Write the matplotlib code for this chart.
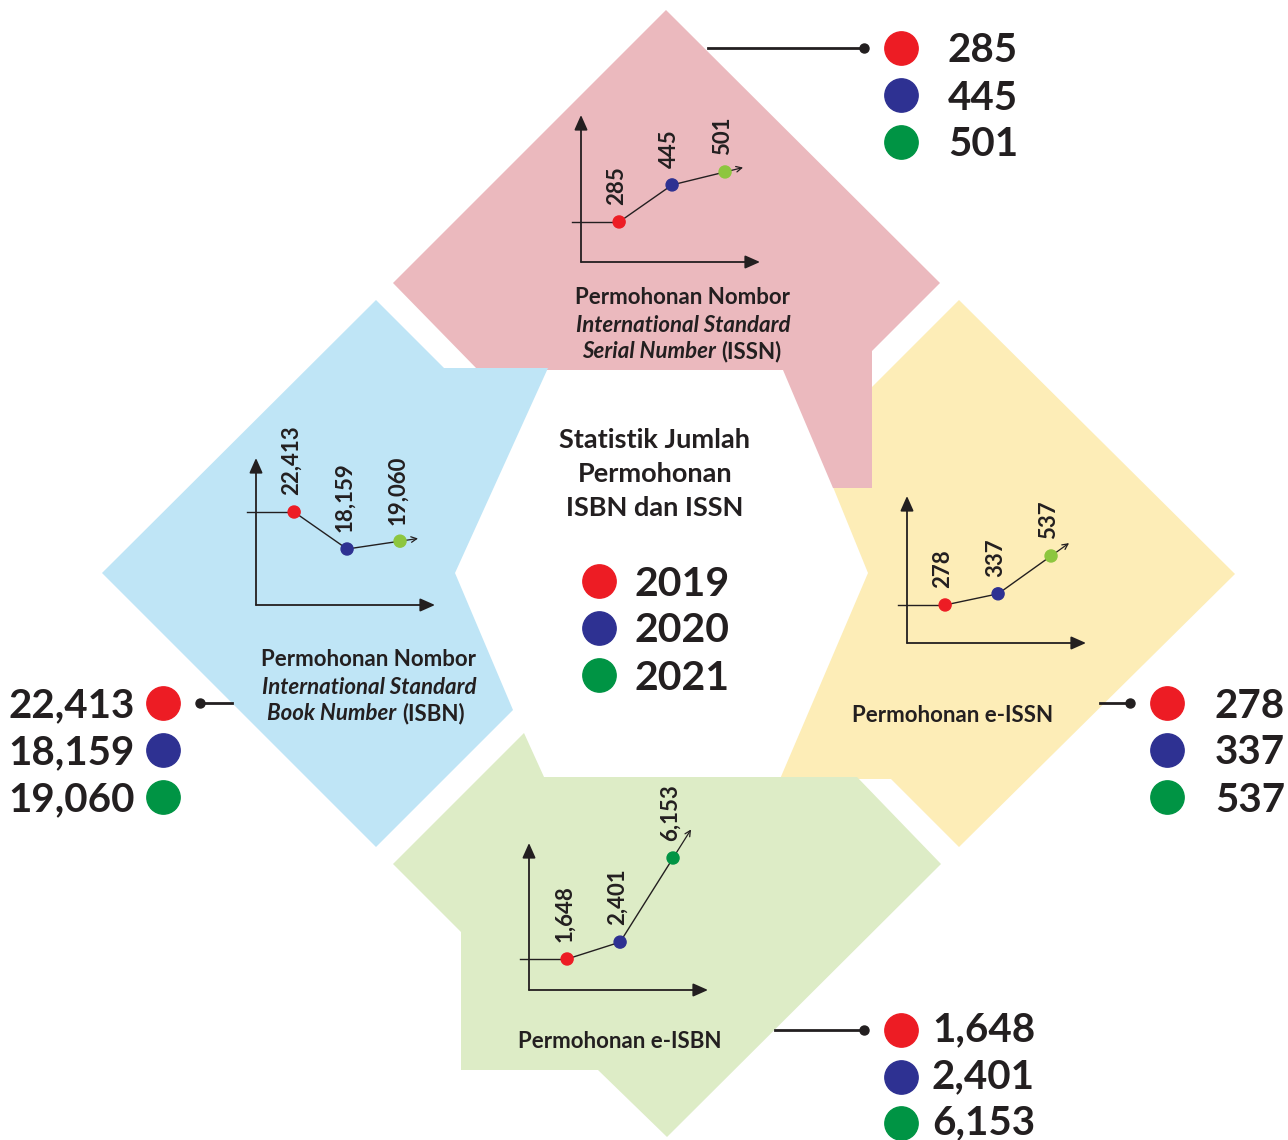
import matplotlib.pyplot as plt
from matplotlib.patches import Polygon

plt.rcParams['font.family'] = ['Lato', 'DejaVu Sans']

# data
years = ['2019', '2020', '2021']
year_colors = ['#ED1C24', '#2E3192', '#009444']

issn = [285, 445, 501]
isbn = [22413, 18159, 19060]
eissn = [278, 337, 537]
eisbn = [1648, 2401, 6153]

W, H = 1288, 1140
DARK = '#231F20'
LIGHT_GREEN = '#8DC63F'

fig = plt.figure(figsize=(W / 100, H / 100), dpi=100)
ax = fig.add_axes([0, 0, 1, 1])
ax.set_xlim(0, W)
ax.set_ylim(H, 0)
ax.axis('off')

# background panels (pixel coords of the layout)
panels = [
    ('#FDEDB7', [(959, 300), (1235, 574), (959, 847), (891, 779), (780, 779),
                 (868, 573), (833, 487), (872, 487), (872, 387)]),
    ('#EBB9BE', [(393, 283), (666, 10), (940, 283), (872, 351), (872, 488),
                 (833, 488), (783, 370), (478, 370)]),
    ('#BFE5F6', [(102, 573), (376, 300), (444, 368), (548, 368), (455, 573),
                 (513, 710), (376, 847)]),
    ('#DDECC6', [(393, 864), (524, 733), (544, 777), (857, 777), (941, 864),
                 (667, 1137), (598, 1070), (461, 1070), (461, 932)]),
]
for color, pts in panels:
    ax.add_patch(Polygon(pts, closed=True, fc=color, ec='none', zorder=1))


def mini_chart(values, left, base, ylim, last_color):
    ax_in = fig.add_axes([left / W, 1 - base / H, 179 / W, 147 / H])
    ax_in.set_xlim(-0.72, 2.66)
    ax_in.set_ylim(*ylim)
    ax_in.axis('off')
    xs = [0, 1, 2]
    for end in [(0, 1), (1, 0)]:
        ax_in.annotate('', xy=end, xytext=(0, 0), xycoords='axes fraction',
                       arrowprops=dict(arrowstyle='-|>,head_length=0.9,head_width=0.4',
                                       color=DARK, lw=1.3, shrinkA=0, shrinkB=0),
                       annotation_clip=False)
    ax_in.plot([-0.89, 0], [values[0]] * 2, color=DARK, lw=1, clip_on=False)
    ax_in.plot(xs, values, color=DARK, lw=1, clip_on=False)
    tip = (2.34, values[2] + 0.34 * (values[2] - values[1]))
    ax_in.annotate('', xy=tip, xytext=(2, values[2]),
                   arrowprops=dict(arrowstyle='->,head_length=0.4,head_width=0.2',
                                   color=DARK, lw=0.9, shrinkA=0, shrinkB=0),
                   annotation_clip=False)
    ax_in.scatter(xs, values, s=75, c=[year_colors[0], year_colors[1], last_color],
                  zorder=3, clip_on=False)
    for x, v in zip(xs, values):
        ax_in.annotate(f'{v:,}', (x, v), xytext=(-2, 12), textcoords='offset points',
                       rotation=90, ha='center', va='bottom', fontsize=16,
                       fontweight='bold', color=DARK, annotation_clip=False)


mini_chart(issn, 581, 262, (112, 747), LIGHT_GREEN)
mini_chart(isbn, 256, 605, (11721, 28622), LIGHT_GREEN)
mini_chart(eissn, 907, 643, (77, 854), LIGHT_GREEN)
mini_chart(eisbn, 529, 990, (265, 6822), year_colors[2])


def value_list(values, dot_x, text_x, y0, ha, lead_x, lead_dot, step=47, shift=3):
    for i, (v, c) in enumerate(zip(values, year_colors)):
        y = y0 + i * step
        ax.plot(dot_x, y, 'o', ms=24, color=c, zorder=5)
        ax.text(text_x, y + shift, f'{v:,}', ha=ha, va='center', fontsize=29,
                fontweight='bold', color=DARK, zorder=5)
    ax.plot(lead_x, [y0, y0], color=DARK, lw=2, zorder=5)
    ax.plot(lead_dot, y0, 'o', ms=6.5, color=DARK, zorder=5)


value_list(issn, 901, 948, 48, 'left', [708, 864], 864)
value_list(eissn, 1167, 1215, 703, 'left', [1100, 1130], 1130)
value_list(eisbn, 901, 932, 1030, 'left', [775, 864], 864, step=46.5, shift=0)
value_list(isbn, 163, 135, 703, 'right', [200, 232], 200)

# center title and legend
for y, line in zip([438, 472, 506], ['Statistik Jumlah', 'Permohonan', 'ISBN dan ISSN']):
    ax.text(655, y + 2, line, ha='center', va='center', fontsize=19.5,
            fontweight='bold', color=DARK, zorder=5)
for i, (yr, c) in enumerate(zip(years, year_colors)):
    y = 581 + i * 47
    ax.plot(599, y, 'o', ms=24, color=c, zorder=5)
    ax.text(635, y + 3, yr, ha='left', va='center', fontsize=29.5,
            fontweight='bold', color=DARK, zorder=5)


def caption(x, y, text, **kw):
    return ax.text(x, y, text, ha=kw.pop('ha', 'center'), va='center', fontsize=16,
                   fontweight='bold', color=DARK, zorder=5, **kw)


def mixed_line(x, y, italic_part, plain_part):
    t = caption(x, y, italic_part, ha='left', style='italic')
    ax.annotate(plain_part, xy=(1, 0.5), xycoords=t, xytext=(4, 0),
                textcoords='offset points', ha='left', va='center', fontsize=16,
                fontweight='bold', color=DARK, zorder=5)


caption(683, 298, 'Permohonan Nombor')
caption(683, 325, 'International Standard', style='italic')
mixed_line(582, 352, 'Serial Number', '(ISSN)')

caption(369, 659, 'Permohonan Nombor')
caption(369, 687, 'International Standard', style='italic')
mixed_line(267, 714, 'Book Number', '(ISBN)')

caption(953, 716, 'Permohonan e-ISSN')
caption(620, 1042, 'Permohonan e-ISBN')

fig.savefig('out.png', dpi=100)
